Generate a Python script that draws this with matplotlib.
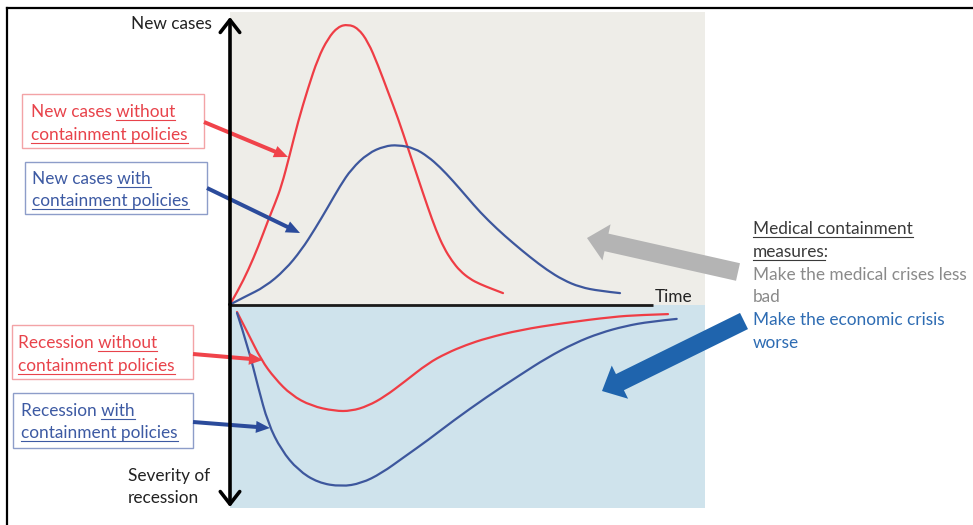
import matplotlib
matplotlib.use('Agg')
import matplotlib.pyplot as plt
from matplotlib.patches import FancyArrow, Rectangle, PathPatch
from matplotlib.path import Path

plt.rcParams['font.family'] = ['Lato', 'DejaVu Sans']

# ---------------- data ----------------
# time axis: arbitrary units; values: new cases (up) / severity of recession (down, negative)
t_cases_without = [0, 1.66, 3.66, 5.66, 7.66, 9.0, 10.3, 11.94, 13.6, 15.6, 17.6, 19.6, 21.6,
                   23.6, 25.6, 27.6, 29.6, 31.6, 33.6, 35.6, 37.6, 39.6, 41.2, 42.8, 44.4,
                   46.0, 48.0, 50.0, 52.4, 54.6]
cases_without = [0, 4.8, 11.5, 19.3, 28.2, 33.7, 39.5, 49.8, 60.9, 72.1, 82.1, 88.7, 92.6,
                 93.4, 92.1, 87.6, 79.8, 70.9, 62.1, 52.1, 42.1, 32.2, 24.8, 18.8, 14.5,
                 11.2, 8.5, 6.8, 5.2, 3.8]

t_cases_with = [0, 3, 7, 11, 14.3, 17, 19.6, 22, 24.3, 27.6, 30.9, 33.6, 36.9, 39.6, 42,
                44.6, 47.4, 50, 53.4, 56.6, 60, 63.4, 66.6, 70, 74, 78]
cases_with = [0, 2.6, 5.9, 11.5, 18.2, 25.2, 32.5, 39.5, 45.2, 50.4, 52.8, 53.2, 52.1, 49.3,
              45.8, 41.2, 35.8, 30.8, 25.2, 20.5, 15.8, 11.5, 8.2, 5.8, 4.5, 3.8]

t_rec_without = [1.4, 3.6, 6.26, 8.94, 12.26, 16.26, 20.94, 24.26, 27.6, 30.94, 34.94, 39.6,
                 43.34, 47.2, 51.34, 58, 66.6, 76.6, 82, 87.6]
rec_without = [-2.5, -9.6, -18.5, -24.6, -30.2, -33.8, -35.5, -35.5, -33.8, -30.7, -25.7,
               -19.6, -16.2, -13.5, -11.2, -8.5, -6.2, -4.1, -3.5, -3.2]

t_rec_with = [1.4, 3.6, 5.6, 7.6, 10.26, 13.6, 17.6, 22.26, 26.26, 30.26, 34.94, 39.6, 44.6,
              51.34, 58, 63.34, 69, 74, 79, 84, 89.34]
rec_with = [-2.8, -14.1, -27.4, -39.6, -48.5, -55.2, -59.4, -60.7, -59.6, -56.3, -50.7, -45.2,
            -38.8, -30.8, -23.5, -17.8, -12.8, -9.5, -7.2, -5.7, -4.8]

label_y_top = "New cases"
label_y_bottom = ["Severity of", "recession"]
label_x = "Time"
# each line: (text, underlined part, underline at 'end' or 'start')
box_texts = {
    "cases_without": [("New cases without", "without", "end"),
                      ("containment policies", "containment policies", "end")],
    "cases_with": [("New cases with", "with", "end"),
                   ("containment policies", "containment policies", "end")],
    "rec_without": [("Recession without", "without", "end"),
                    ("containment policies", "containment policies", "end")],
    "rec_with": [("Recession with", "with", "end"),
                 ("containment policies", "containment policies", "end")],
}
right_title = [("Medical containment", "Medical containment", "end"),
               ("measures:", "measures", "start")]
right_medical = ["Make the medical crises less", "bad"]
right_economic = ["Make the economic crisis", "worse"]

# ---------------- styles ----------------
RED = '#ef3d45'
BLUE = '#3d579d'
RED_TXT = '#e8434b'
BLUE_TXT = '#3d5aa3'
GRAY_BG = '#eeede8'
BLUE_BG = '#cfe3ec'
FS = 12.4

W, H = 973, 525
fig = plt.figure(figsize=(W / 100, H / 100), dpi=100)
fig.patch.set_facecolor('white')

ax = fig.add_axes([230 / W, (H - 508) / H, 475 / W, 496 / H])
ax.set_zorder(0)
ax.set_xlim(0, 95)
ax.set_ylim(-67.83, 97.5)
ax.axhspan(0, 97.5, color=GRAY_BG, lw=0)
ax.axhspan(-67.83, 0, color=BLUE_BG, lw=0)


def smooth_curve(axis, xs, ys, color):
    """Quadratic B-spline path through the read points, rendered by matplotlib."""
    pts = list(zip(xs, ys))
    verts = [pts[0]]
    codes = [Path.MOVETO]
    for i in range(1, len(pts) - 2):
        mid = ((pts[i][0] + pts[i + 1][0]) / 2, (pts[i][1] + pts[i + 1][1]) / 2)
        verts += [pts[i], mid]
        codes += [Path.CURVE3, Path.CURVE3]
    verts += [pts[-2], pts[-1]]
    codes += [Path.CURVE3, Path.CURVE3]
    axis.add_patch(PathPatch(Path(verts, codes), fc='none', ec=color, lw=1.6,
                             capstyle='round', joinstyle='round'))


smooth_curve(ax, t_cases_without, cases_without, RED)
smooth_curve(ax, t_cases_with, cases_with, BLUE)
smooth_curve(ax, t_rec_without, rec_without, RED)
smooth_curve(ax, t_rec_with, rec_with, BLUE)
ax.axis('off')

ov = fig.add_axes([0, 0, 1, 1])
ov.set_zorder(1)
ov.set_xlim(0, W)
ov.set_ylim(H, 0)
ov.axis('off')

# outer frame (top and left)
ov.plot([7, W], [8, 8], color='black', lw=1.6)
ov.plot([7, 7], [8, H], color='black', lw=1.6)

# axes
ov.plot([230, 653], [304.5, 304.5], color='#1a1a1a', lw=2.0, solid_capstyle='butt')
for yend in (17, 507):
    ov.annotate('', xy=(230, yend), xytext=(230, 304.5),
                arrowprops=dict(arrowstyle='->,head_length=0.45,head_width=0.35',
                                lw=2.6, color='black', shrinkA=0, shrinkB=0,
                                mutation_scale=20))

fig.canvas.draw()
r = fig.canvas.get_renderer()


def width_of(s, fs=FS):
    t = ov.text(0, 0, s, fontsize=fs)
    w = t.get_window_extent(renderer=r).width
    t.remove()
    return w


def line_text(x, y, spec, color, fs=FS):
    s, u, where = spec
    ov.text(x, y, s, color=color, fontsize=fs, ha='left', va='baseline')
    full = width_of(s, fs)
    uw = width_of(u, fs)
    if where == 'end':
        x0, x1 = x + full - uw, x + full
    else:
        x0, x1 = x, x + uw
    ov.plot([x0, x1], [y + 2.5, y + 2.5], color=color, lw=0.8)


def box(x0, y0, x1, y1, ec):
    ov.add_patch(Rectangle((x0, y0), x1 - x0, y1 - y0, fc='white', ec=ec, lw=1.0))


# left boxes
box(22, 94, 204, 148, '#f3a3a6')
line_text(31, 117, box_texts["cases_without"][0], RED_TXT)
line_text(31, 140, box_texts["cases_without"][1], RED_TXT)

box(25, 162, 207, 214, '#8d9dc9')
line_text(32, 184, box_texts["cases_with"][0], BLUE_TXT)
line_text(32, 206, box_texts["cases_with"][1], BLUE_TXT)

box(12, 325, 193, 379, '#f3a3a6')
line_text(18, 348, box_texts["rec_without"][0], RED_TXT)
line_text(18, 371, box_texts["rec_without"][1], RED_TXT)

box(13, 393, 193, 448, '#8d9dc9')
line_text(21, 416, box_texts["rec_with"][0], BLUE_TXT)
line_text(21, 438, box_texts["rec_with"][1], BLUE_TXT)


# small pointer arrows
def small_arrow(x0, y0, x1, y1, color):
    ov.add_patch(FancyArrow(x0, y0, x1 - x0, y1 - y0, width=4, head_width=12,
                            head_length=14, length_includes_head=True,
                            fc=color, ec=color, lw=0))


small_arrow(204, 122, 288, 157, '#f0434a')
small_arrow(207, 188, 300, 233, '#2b4b9b')
small_arrow(193, 354, 263, 360, '#f0434a')
small_arrow(193, 422, 270, 428, '#2b4b9b')

# axis labels
ov.text(212, 29, label_y_top, fontsize=FS, color='#222222', ha='right', va='baseline')
ov.text(128, 481, label_y_bottom[0], fontsize=FS, color='#222222', ha='left', va='baseline')
ov.text(128, 503, label_y_bottom[1], fontsize=FS, color='#222222', ha='left', va='baseline')
ov.text(655, 302, label_x, fontsize=FS, color='#222222', ha='left', va='baseline')

# big arrows
ov.add_patch(FancyArrow(738, 272, 587 - 738, 238 - 272, width=18, head_width=37,
                        head_length=20, length_includes_head=True,
                        fc='#b4b4b4', ec='none'))
ov.add_patch(FancyArrow(744, 321, 602 - 744, 391 - 321, width=18, head_width=37,
                        head_length=20, length_includes_head=True,
                        fc='#1f64ad', ec='none'))

# right-hand text
line_text(753, 234, right_title[0], '#3a3a3a')
line_text(753, 257, right_title[1], '#3a3a3a')
ov.text(753, 280, right_medical[0], fontsize=FS, color='#8a8a8a', ha='left', va='baseline')
ov.text(753, 302, right_medical[1], fontsize=FS, color='#8a8a8a', ha='left', va='baseline')
ov.text(753, 325, right_economic[0], fontsize=FS, color='#2e6cb3', ha='left', va='baseline')
ov.text(753, 348, right_economic[1], fontsize=FS, color='#2e6cb3', ha='left', va='baseline')

fig.savefig('out.png', dpi=100, facecolor='white')
